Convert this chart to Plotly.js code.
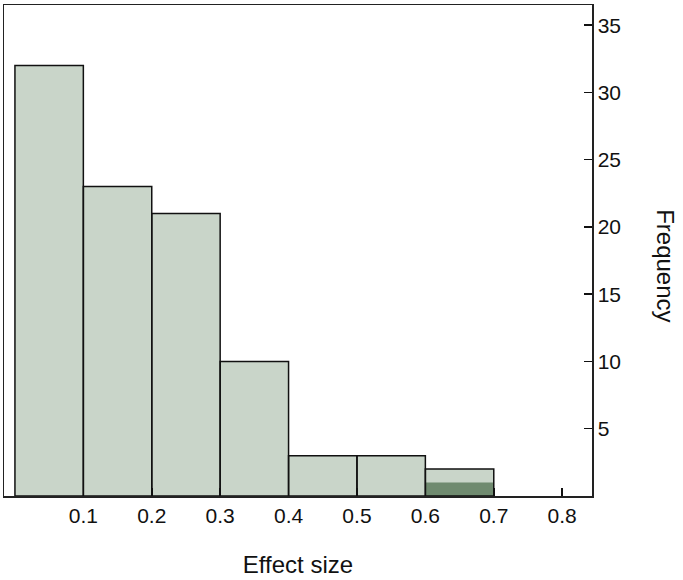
<!DOCTYPE html>
<html>
<head>
<meta charset="utf-8">
<script src="https://cdn.plot.ly/plotly-3.0.1.min.js"></script>
<style>
  html, body { margin: 0; padding: 0; background: #fff; }
  #plot { width: 683px; height: 580px; }
</style>
</head>
<body>
<div id="plot"></div>
<script>
// 直方图各组（组中点）与频数
const binCenters = [0.05, 0.15, 0.25, 0.35, 0.45, 0.55, 0.65];
const allCounts = [32, 23, 21, 10, 3, 3, 2];
// 深色部分（只在 0.6–0.7 这一组）
const darkCenters = [0.65];
const darkCounts = [1];
const binWidth = 0.1;

const xTicks = [0.1, 0.2, 0.3, 0.4, 0.5, 0.6, 0.7, 0.8];
const yTicks = [5, 10, 15, 20, 25, 30, 35];

const fontFamily = 'Liberation Sans, Arial, Helvetica, sans-serif';

// 浅色填充
const lightBars = {
    type: 'bar',
    x: binCenters,
    y: allCounts,
    width: binCenters.map(() => binWidth),
    marker: { color: '#c9d5c9', line: { width: 0 } },
    showlegend: false,
    hoverinfo: 'x+y'
};

// 深色部分
const darkBars = {
    type: 'bar',
    x: darkCenters,
    y: darkCounts,
    width: darkCenters.map(() => binWidth),
    marker: { color: '#6f8a6f', line: { width: 0 } },
    showlegend: false,
    hoverinfo: 'x+y'
};

// 只画外框，放在最上层
const outlineBars = {
    type: 'bar',
    x: binCenters,
    y: allCounts,
    width: binCenters.map(() => binWidth),
    marker: { color: 'rgba(0,0,0,0)', line: { color: '#111', width: 1.5 } },
    showlegend: false,
    hoverinfo: 'skip'
};

const layout = {
    width: 683,
    height: 580,
    margin: { l: 4, r: 91, t: 5, b: 84 },
    paper_bgcolor: '#fff',
    plot_bgcolor: '#fff',
    barmode: 'overlay',
    font: { family: fontFamily, size: 21, color: '#111' },
    xaxis: {
        range: [-0.016, 0.8436],
        tickvals: xTicks,
        ticktext: xTicks.map(v => v.toFixed(1)),
        tickfont: { family: fontFamily, size: 21, color: '#111' },
        ticks: 'inside',
        ticklen: 8,
        tickwidth: 1.5,
        tickcolor: '#111',
        showgrid: false,
        zeroline: false,
        showline: true,
        mirror: true,
        linecolor: '#222',
        linewidth: 1.5,
        title: { text: 'Effect size', font: { family: fontFamily, size: 24, color: '#111' }, standoff: 30 }
    },
    yaxis: {
        range: [0, 36.5],
        side: 'right',
        tickvals: yTicks,
        tickfont: { family: fontFamily, size: 21, color: '#111' },
        ticks: 'inside',
        ticklen: 8,
        tickwidth: 1.5,
        tickcolor: '#111',
        showgrid: false,
        zeroline: false,
        showline: true,
        mirror: true,
        linecolor: '#222',
        linewidth: 1.5
    },
    annotations: [{
        text: 'Frequency',
        textangle: 90,
        xref: 'paper', yref: 'paper',
        x: 1.126, y: 0.47,
        xanchor: 'center', yanchor: 'middle',
        showarrow: false,
        font: { size: 24, family: fontFamily, color: '#111' }
    }]
};

Plotly.newPlot('plot', [lightBars, darkBars, outlineBars], layout, { displayModeBar: false, staticPlot: true });
</script>
</body>
</html>
